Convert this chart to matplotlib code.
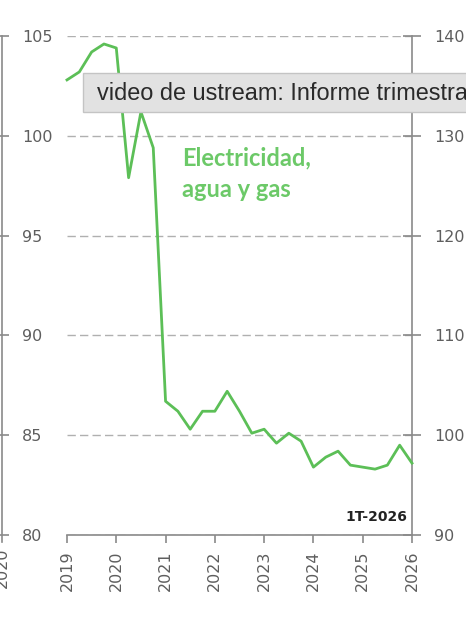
import matplotlib
matplotlib.use("Agg")
import matplotlib.pyplot as plt
from matplotlib.patches import Rectangle
import numpy as np

# ---- data ----
start_year = 2019
values = [102.8, 103.2, 104.2, 104.6, 104.4, 97.9, 101.2, 99.4,
          86.7, 86.2, 85.3, 86.2, 86.2, 87.2, 86.2, 85.1,
          85.3, 84.6, 85.1, 84.7, 83.4, 83.9, 84.2, 83.5,
          83.4, 83.3, 83.5, 84.5, 83.6]
x_ticks = [2019, 2020, 2021, 2022, 2023, 2024, 2025, 2026]
left_ticks = [80, 85, 90, 95, 100, 105]
right_ticks = [90, 100, 110, 120, 130, 140]
series_label = "Electricidad,\nagua y gas"
period_label = "1T-2026"
tooltip_text = "video de ustream: Informe trimestral"
neighbor_label = "2020"

W, H = 466, 622
fig = plt.figure(figsize=(W / 100, H / 100), dpi=100)
fig.patch.set_facecolor("white")

def fx(px):
    return px / W

def fy(py):
    return 1 - py / H

ax_l, ax_r, ax_t, ax_b = 67, 412, 36, 535
ax = fig.add_axes([fx(ax_l), fy(ax_b), fx(ax_r - ax_l), (ax_b - ax_t) / H])

tick_col = "#5e5e5e"
spine_col = "#8a8a8a"
green = "#5cbf57"
tick_font = "DejaVu Sans"
tick_size = 11.5

xs = [start_year + 0.25 * i for i in range(len(values))]
ax.plot(xs, values, color=green, lw=2.0, solid_joinstyle="round", zorder=3, clip_on=False)

ax.set_xlim(2019, 2026)
ax.set_ylim(80, 105)
ax.set_xticks(x_ticks)
ax.set_xticklabels([str(t) for t in x_ticks], rotation=90, family=tick_font,
                   fontsize=tick_size, color=tick_col)
ax.set_yticks(left_ticks)
ax.set_yticklabels([str(t) for t in left_ticks], family=tick_font, fontsize=tick_size,
                   color=tick_col, ha="left")

for s in ["left", "top"]:
    ax.spines[s].set_visible(False)
for s in ["bottom", "right"]:
    ax.spines[s].set_color(spine_col)
    ax.spines[s].set_linewidth(1.2)

ax.tick_params(axis="y", left=True, length=0, pad=45 * 0.72)
ax.tick_params(axis="x", direction="out", length=6, width=1.2, color=spine_col, pad=5)
ax.yaxis.grid(True, color="#b0b0b0", linestyle=(0, (6, 3)), lw=1.0)
ax.set_axisbelow(True)

ax2 = ax.twinx()
ax2.set_ylim(90, 140)
ax2.set_yticks(right_ticks)
ax2.set_yticklabels([str(t) for t in right_ticks], family=tick_font, fontsize=tick_size,
                    color=tick_col)
ax2.tick_params(axis="y", direction="inout", length=13, width=1.2, color=spine_col, pad=9.5)
for s in ["left", "top", "bottom", "right"]:
    ax2.spines[s].set_visible(False)

# outer vertical line at left edge (neighbouring panel)
ax0 = fig.add_axes([fx(0), fy(542), fx(2), (542 - ax_t) / H])
ax0.set_ylim(80 - 7 / 19.96, 105)
for s in ["left", "top", "bottom"]:
    ax0.spines[s].set_visible(False)
ax0.spines["right"].set_color(spine_col)
ax0.spines["right"].set_linewidth(1.2)
ax0.set_xticks([])
ax0.yaxis.tick_right()
ax0.set_yticks(left_ticks)
ax0.set_yticklabels([])
ax0.tick_params(axis="y", direction="inout", length=10, width=1.2, color=spine_col)
ax0.patch.set_alpha(0)

fig.text(fx(2), fy(548), neighbor_label, rotation=90, ha="center", va="top",
         family=tick_font, fontsize=tick_size, color=tick_col)

# series label (two lines)
label_lines = series_label.split("\n")
label_baselines = [98.54, 96.93]
for line, yb in zip(label_lines, label_baselines):
    ax.text(2021.333, yb, line, color="#6cc968", fontsize=17, fontweight="bold",
            family="Lato", ha="left", va="baseline")

# period label
ax.text(2025.9, 80.55, period_label, color="#222222", fontsize=10, fontweight="bold",
        family="DejaVu Sans", ha="right", va="bottom")

# tooltip overlay
rect = Rectangle((fx(83), fy(112)), fx(400), (112 - 73) / H, transform=fig.transFigure,
                 facecolor="#e2e2e2", edgecolor="#c4c4c4", lw=1.0, zorder=10)
fig.patches.append(rect)
fig.text(fx(97), fy(100), tooltip_text, fontsize=16.9, color="#2a2a2a",
         family="Liberation Sans", ha="left", va="baseline", zorder=11)

fig.savefig("out.png", dpi=100, facecolor="white")
